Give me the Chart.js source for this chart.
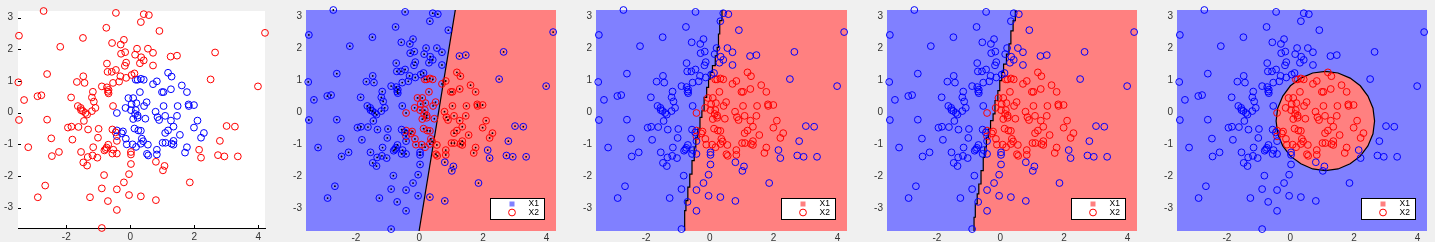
<!DOCTYPE html>
<html>
<head>
<meta charset="utf-8">
<script src="https://cdn.jsdelivr.net/npm/chart.js@4.4.1/dist/chart.umd.min.js"></script>
<style>
  html, body { margin: 0; padding: 0; background: #f0f0f0; }
  body { width: 1435px; height: 242px; position: relative; overflow: hidden; }
  canvas { position: absolute; top: 0; }
</style>
</head>
<body>
<canvas id="p1" width="270" height="242" style="left:0px"></canvas>
<canvas id="p2" width="281" height="242" style="left:280px"></canvas>
<canvas id="p3" width="282" height="242" style="left:570px"></canvas>
<canvas id="p4" width="281" height="242" style="left:861px"></canvas>
<canvas id="p5" width="281" height="242" style="left:1151px"></canvas>
<script>
// pontos da classe de dentro (azul no 1o painel, vermelho nos outros)
const innerX = [1.18, 1.29, 0.17, 0.23, 0.33, 0.42, 0.83, 0.71, 1.61, 1.27, 0.99, 1.04, 1.77, 0.30, -0.06, 0.09, 0.51, 0.04, 0.19, 0.43,
  1.04, 1.48, 1.82, 1.83, 1.99, -0.15, 0.02, 0.17, 0.79, -0.42, 0.15, 0.23, 1.09, 0.85, 1.46, 0.09, 0.23, 0.47, 0.90, 1.27,
  2.10, 1.35, 1.99, 0.13, 0.25, 0.33, 1.18, 1.09, 2.30, -0.42, -0.23, -0.27, 1.55, 2.21, -0.42, -0.14, 0.36, 0.40, 1.35, 0.07,
  -0.11, 0.33, 0.55, 1.01, 1.10, 1.29, 1.35, 0.18, 1.77, 0.83, 1.71, 0.52, 0.56, 0.83];
const innerY = [1.26, 1.14, 1.04, 1.04, 1.07, 1.04, 0.99, 0.90, 0.86, 0.74, 0.65, 0.65, 0.65, 0.65, 0.46, 0.46, 0.33, 0.27, 0.30, 0.21,
  0.21, 0.21, 0.26, 0.21, 0.24, 0.15, 0.08, 0.08, 0.03, -0.01, -0.04, -0.09, -0.10, -0.14, -0.10, -0.20, -0.16, -0.19, -0.23, -0.25,
  -0.25, -0.44, -0.47, -0.50, -0.56, -0.57, -0.56, -0.64, -0.64, -0.56, -0.59, -0.65, -0.70, -0.79, -0.74, -0.82, -0.82, -0.90, -0.89, -1.00,
  -1.00, -0.98, -1.01, -0.95, -0.95, -0.98, -1.01, -1.08, -1.09, -1.17, -1.26, -1.30, -1.35, -1.32];

// pontos da classe de fora
const outerX = [-2.71, -0.45, 0.42, 0.58, 0.33, -3.48, 4.21, 0.91, -0.75, -1.48, -0.20, -0.57, -0.30, -2.19, 0.21, 0.55, 0.71, -0.29, -0.16, 0.15,
  0.34, 0.42, 0.30, 1.26, 1.46, 2.65, 0.71, -0.73, -0.13, -0.17, -0.45, -0.58, -0.71, -2.60, 0.13, 0.04, -0.31, -0.13, -1.47, -1.43,
  -1.67, -0.35, -0.54, -3.50, 2.51, 3.99, -0.89, -0.73, -0.68, -0.70, -0.68, -1.17, -2.90, -2.78, -1.85, -1.20, -1.14, -3.32, -0.54, -1.64,
  -1.55, -1.09, -1.20, -1.48, -1.54, -1.40, -1.35, -3.48, -2.60, -1.45, -1.62, -1.95, -1.84, -0.99, -1.32, -0.56, -0.46, -2.47, -1.81, -1.01,
  -0.42, -3.19, -1.16, -0.69, -0.74, -0.81, -0.77, -0.53, -0.56, -0.42, -1.54, 0.02, 0.02, -2.23, -2.45, -1.18, -1.33, -1.03, -1.47, -1.35,
  0.02, 0.80, 1.07, 1.02, 2.15, 2.21, 2.74, 2.94, 3.36, 2.80, 3.01, 3.27, 1.86, -0.82, -0.04, -0.20, -2.66, -0.89, -0.42, -2.89,
  -1.26, -0.04, 0.33, -0.70, 0.80, -0.42, -0.89];
const outerY = [3.21, 3.15, 3.11, 3.08, 2.86, 2.43, 2.52, 2.58, 2.68, 2.36, 2.30, 2.20, 2.15, 2.08, 2.02, 2.02, 1.89, 1.86, 1.91, 1.83,
  1.75, 1.65, 1.56, 1.77, 1.80, 1.90, 1.49, 1.55, 1.58, 1.48, 1.35, 1.29, 1.29, 1.22, 1.24, 1.19, 1.15, 1.10, 1.15, 0.94,
  0.97, 0.98, 0.94, 0.96, 1.05, 0.83, 0.83, 0.80, 0.72, 0.66, 0.61, 0.66, 0.52, 0.55, 0.48, 0.48, 0.35, 0.40, 0.21, 0.21,
  0.15, 0.15, 0.05, 0.05, 0.08, -0.01, -0.06, -0.23, -0.22, -0.26, -0.45, -0.47, -0.44, -0.51, -0.53, -0.53, -0.62, -0.81, -0.85, -0.79,
  -0.89, -1.09, -1.09, -1.01, -1.10, -1.19, -1.15, -1.17, -1.29, -1.29, -1.24, -1.24, -1.32, -1.24, -1.37, -1.35, -1.40, -1.42, -1.57, -1.67,
  -1.62, -1.55, -1.68, -1.82, -1.17, -1.42, -1.34, -1.38, -1.38, -0.89, -0.42, -0.44, -2.20, -1.97, -1.94, -2.20, -2.30, -2.39, -2.42, -2.67,
  -2.67, -2.60, -2.64, -2.79, -2.76, -3.07, -3.64];

const xTicks = [-2, 0, 2, 4];
const yTicks = [-3, -2, -1, 0, 1, 2, 3];
const legendLabels = ['X1', 'X2'];

// limites dos eixos
const xLimData = [-3.51, 4.21];
const yLimData = [-3.64, 3.21];
const xLimGrid = [-3.57, 4.30];
const yLimGrid = [-3.70, 3.21];

// fronteira linear (painel 2)
const linBoundX = [-0.01, 1.13];
const linBoundY = [-3.70, 3.21];

// fronteiras em escada (paineis 3 e 4)
const knnAX = [-0.79, -0.75, -0.69, -0.63, -0.56, -0.49, -0.44, -0.38, -0.31, -0.25, -0.18, -0.10, -0.04, 0.01, 0.08, 0.17, 0.23, 0.27, 0.31, 0.38, 0.43];
const knnAY = [-3.70, -3.06, -2.75, -2.33, -1.92, -1.50, -1.08, -0.77, -0.51, -0.15, 0.06, 0.48, 0.79, 1.05, 1.26, 1.47, 1.78, 2.04, 2.46, 2.88, 3.21];
const knnBX = [-0.83, -0.79, -0.73, -0.68, -0.61, -0.54, -0.49, -0.44, -0.38, -0.31, -0.23, -0.17, -0.08, -0.02, 0.04, 0.10, 0.19, 0.27, 0.33, 0.40, 0.47, 0.52];
const knnBY = [-3.70, -3.27, -2.85, -2.54, -2.23, -1.81, -1.40, -1.08, -0.77, -0.51, -0.25, -0.04, 0.38, 0.69, 1.00, 1.26, 1.52, 1.83, 2.15, 2.56, 2.88, 3.21];

// fronteira circular (painel 5)
const circX = [2.65, 2.60, 2.44, 2.20, 1.88, 1.50, 1.10, 0.70, 0.33, 0.00, -0.24, -0.40, -0.45, -0.40, -0.24, 0.00, 0.33, 0.70, 1.10, 1.50, 1.88, 2.20, 2.44, 2.60, 2.65];
const circY = [-0.26, 0.14, 0.52, 0.84, 1.08, 1.24, 1.29, 1.24, 1.08, 0.84, 0.52, 0.14, -0.26, -0.66, -1.04, -1.36, -1.60, -1.76, -1.81, -1.76, -1.60, -1.36, -1.04, -0.66, -0.26];

const AZUL = '#0000ff';
const VERMELHO = '#ff0000';
const FUNDO_AZUL = '#8080ff';
const FUNDO_VERMELHO = '#ff8080';
const FONTE = { family: '"Liberation Sans", Arial, sans-serif', size: 10 };

function pontos(xs, ys) {
  return xs.map((x, i) => ({ x: x, y: ys[i] }));
}

// regiao vermelha = fronteira + canto direito do grafico
function regiaoDireita(xs, ys, xLim, yLim) {
  const p = pontos(xs, ys);
  p.push({ x: xLim[1], y: yLim[1] });
  p.push({ x: xLim[1], y: yLim[0] });
  return p;
}

function criarPainel(id, cfg) {
  const datasets = [];

  if (cfg.dots) {
    datasets.push({
      data: pontos(innerX.concat(outerX), innerY.concat(outerY)),
      pointRadius: 0.9, pointBackgroundColor: '#000', pointBorderWidth: 0,
      clip: false, order: 0
    });
  }
  datasets.push({
    data: pontos(outerX, outerY),
    pointRadius: 3.4, pointBorderColor: cfg.outerColor, pointBackgroundColor: 'rgba(0,0,0,0)',
    pointBorderWidth: 1, clip: false, order: 1
  });
  datasets.push({
    data: pontos(innerX, innerY),
    pointRadius: 3.4, pointBorderColor: cfg.innerColor, pointBackgroundColor: 'rgba(0,0,0,0)',
    pointBorderWidth: 1, clip: false, order: 1
  });
  if (cfg.boundary) {
    datasets.push({
      type: 'line', data: cfg.boundary, showLine: true, fill: false,
      borderColor: '#000', borderWidth: 1.2, pointRadius: 0,
      stepped: cfg.stepped || false, order: 2
    });
  }
  if (cfg.region) {
    datasets.push({
      type: 'line', data: cfg.region, showLine: true, fill: 'shape',
      backgroundColor: FUNDO_VERMELHO, borderWidth: 0, borderColor: 'rgba(0,0,0,0)',
      pointRadius: 0, stepped: cfg.stepped || false, order: 3
    });
  }

  const fundo = {
    id: 'fundo',
    beforeDatasetsDraw(chart) {
      const { ctx, chartArea: a } = chart;
      ctx.save();
      ctx.fillStyle = cfg.bg;
      ctx.fillRect(a.left, a.top, a.right - a.left, a.bottom - a.top);
      ctx.restore();
    }
  };

  // marcas dos ticks para dentro (estilo matlab)
  const marcas = {
    id: 'marcas',
    afterDatasetsDraw(chart) {
      if (!cfg.axisLines) return;
      const { ctx, chartArea: a, scales } = chart;
      ctx.save();
      ctx.strokeStyle = '#000';
      ctx.lineWidth = 1;
      ctx.beginPath();
      xTicks.forEach(v => {
        const px = Math.round(scales.x.getPixelForValue(v)) + 0.5;
        ctx.moveTo(px, a.bottom); ctx.lineTo(px, a.bottom - 3);
      });
      yTicks.forEach(v => {
        const py = Math.round(scales.y.getPixelForValue(v)) + 0.5;
        ctx.moveTo(a.left, py); ctx.lineTo(a.left + 3, py);
      });
      ctx.stroke();
      ctx.restore();
    }
  };

  const legenda = {
    id: 'legenda',
    afterDraw(chart) {
      if (!cfg.legendX1) return;
      const { ctx, chartArea: a } = chart;
      const w = 54, h = 21;
      const x0 = Math.round(a.right - 12 - w) + 0.5;
      const y0 = Math.round(a.bottom - 12 - h) + 0.5;
      ctx.save();
      ctx.fillStyle = '#fff';
      ctx.fillRect(x0, y0, w, h);
      ctx.strokeStyle = '#000';
      ctx.lineWidth = 1;
      ctx.strokeRect(x0, y0, w, h);
      // X1: quadrado
      ctx.fillStyle = cfg.legendX1;
      ctx.fillRect(x0 + 19, y0 + 3, 5, 5);
      // X2: circulo
      ctx.strokeStyle = VERMELHO;
      ctx.beginPath();
      ctx.arc(x0 + 21.5, y0 + 14, 3.4, 0, Math.PI * 2);
      ctx.stroke();
      ctx.fillStyle = '#000';
      ctx.font = '8.5px "Liberation Sans", Arial, sans-serif';
      ctx.textBaseline = 'middle';
      ctx.fillText(legendLabels[0], x0 + 38, y0 + 5.5);
      ctx.fillText(legendLabels[1], x0 + 38, y0 + 14);
      ctx.restore();
    }
  };

  new Chart(document.getElementById(id), {
    type: 'scatter',
    data: { datasets: datasets },
    options: {
      responsive: false,
      animation: false,
      events: [],
      layout: { padding: { top: cfg.padTop, right: cfg.padRight, left: 0, bottom: 0 } },
      plugins: { legend: { display: false }, tooltip: { enabled: false } },
      scales: {
        x: {
          type: 'linear', min: cfg.xLim[0], max: cfg.xLim[1],
          afterBuildTicks: s => { s.ticks = xTicks.map(v => ({ value: v })); },
          afterFit: s => { s.height = cfg.xHeight; },
          ticks: { font: FONTE, color: '#333', padding: cfg.xPad, maxRotation: 0, autoSkip: false },
          grid: { display: false, drawTicks: false },
          border: { display: cfg.axisLines, color: '#000', width: 1 }
        },
        y: {
          type: 'linear', min: cfg.yLim[0], max: cfg.yLim[1],
          afterBuildTicks: s => { s.ticks = yTicks.map(v => ({ value: v })); },
          afterFit: s => { s.width = cfg.yWidth; },
          ticks: { font: FONTE, color: '#333', padding: cfg.yPad, autoSkip: false },
          grid: { display: false, drawTicks: false },
          border: { display: cfg.axisLines, color: '#000', width: 1 }
        }
      }
    },
    plugins: [fundo, marcas, legenda]
  });
}

const base = { xLim: xLimGrid, yLim: yLimGrid, yWidth: 26, padTop: 9, padRight: 3, xHeight: 11, xPad: 1, yPad: 4,
  bg: FUNDO_AZUL, axisLines: false, innerColor: VERMELHO, outerColor: AZUL };

criarPainel('p1', { xLim: xLimData, yLim: yLimData, yWidth: 18, padTop: 9, padRight: 5, xHeight: 14, xPad: 3, yPad: 5,
  bg: '#ffffff', axisLines: true, innerColor: AZUL, outerColor: VERMELHO });

criarPainel('p2', Object.assign({}, base, {
  dots: true, legendX1: FUNDO_AZUL,
  boundary: pontos(linBoundX, linBoundY),
  region: regiaoDireita(linBoundX, linBoundY, xLimGrid, yLimGrid)
}));

criarPainel('p3', Object.assign({}, base, {
  legendX1: FUNDO_VERMELHO, stepped: 'after',
  boundary: pontos(knnAX, knnAY),
  region: regiaoDireita(knnAX, knnAY, xLimGrid, yLimGrid)
}));

criarPainel('p4', Object.assign({}, base, {
  legendX1: FUNDO_VERMELHO, stepped: 'after',
  boundary: pontos(knnBX, knnBY),
  region: regiaoDireita(knnBX, knnBY, xLimGrid, yLimGrid)
}));

criarPainel('p5', Object.assign({}, base, {
  legendX1: FUNDO_VERMELHO,
  boundary: pontos(circX, circY),
  region: pontos(circX, circY)
}));
</script>
</body>
</html>
